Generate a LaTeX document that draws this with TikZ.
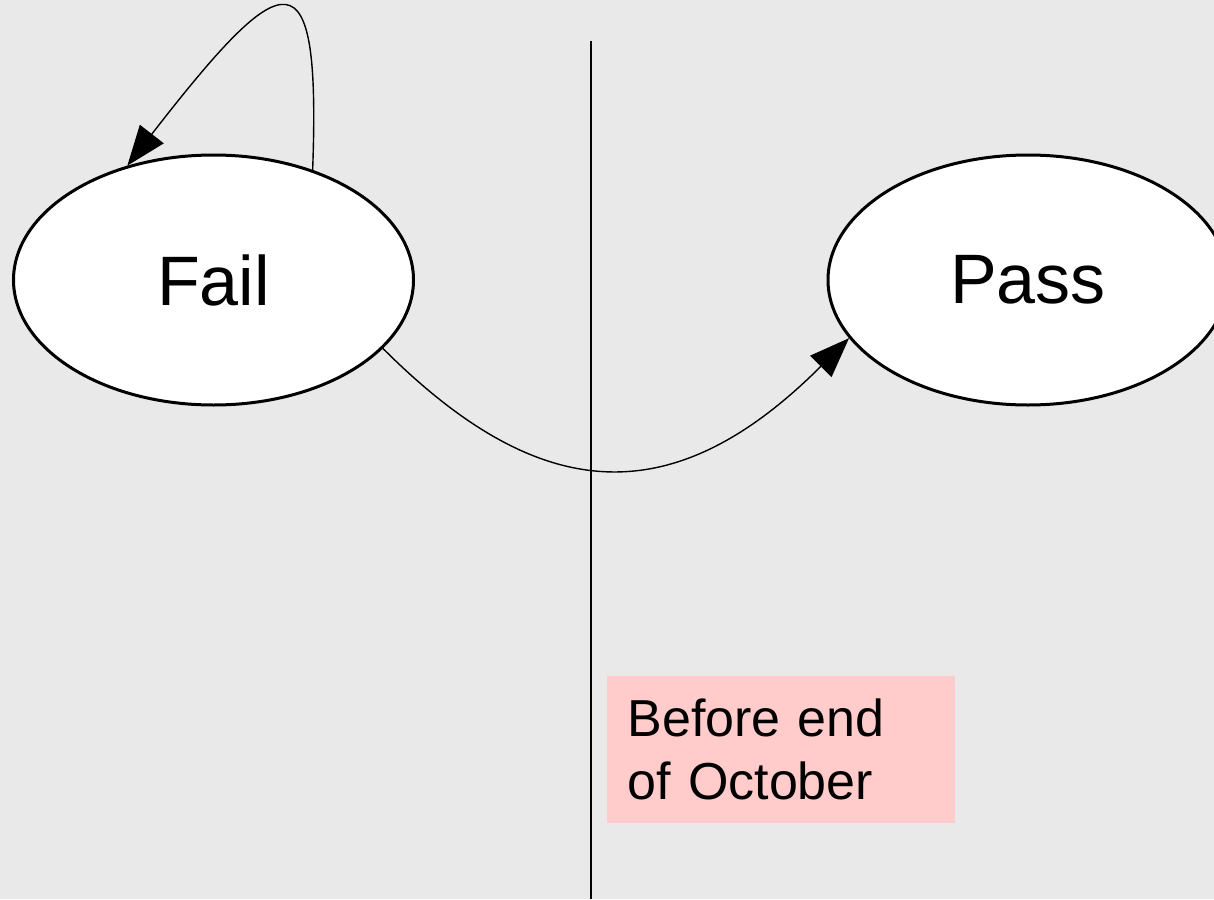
\documentclass[tikz,border=0pt]{standalone}
\usepackage{fontspec}
\setmainfont{Liberation Sans}
\usetikzlibrary{shapes.geometric,arrows.meta}
\definecolor{bg}{HTML}{E9E9E9}
\definecolor{pinkbox}{HTML}{FFCBCB}
\tikzset{
  state/.style={ellipse, draw=black, line width=1.5pt, fill=white,
    minimum width=200pt, minimum height=125pt, inner sep=0pt,
    font=\fontsize{35pt}{42pt}\selectfont},
  edge/.style={draw=black, line width=0.7pt,
    -{Triangle[length=20pt,width=15pt]}},
  note/.style={fill=pinkbox, anchor=north west, inner xsep=10pt, inner ysep=0pt,
    text width=154pt, minimum height=73.5pt, align=left,
    font=\fontsize{26pt}{31.5pt}\selectfont}
}
\begin{document}
\begin{tikzpicture}[x=0.5pt,y=-0.5pt]
  \fill[bg] (0,0) rectangle (1214,899);
  \useasboundingbox (0,0) rectangle (1214,899);
  \draw[line width=1pt] (591,41) -- (591,899);
  \node[state] (fail) at (213.5,280) {Fail};
  \node[state] (pass) at (1028,280) {Pass};
  \node[note] (deadline) at (607,676) {Before end\\of October};
  \draw[edge] (fail.48) .. controls +(8,-220) and +(159,-205) .. (fail.127);
  \draw[edge] (fail.-22) .. controls +(155,155) and +(-178,178) .. (pass.-162);
\end{tikzpicture}
\end{document}
